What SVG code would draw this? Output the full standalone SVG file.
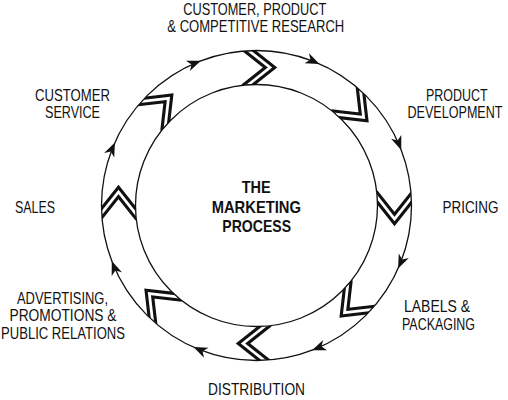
<svg xmlns="http://www.w3.org/2000/svg" xmlns:xlink="http://www.w3.org/1999/xlink" width="508" height="400" viewBox="0 0 508 400">
<style>
  .lbl { font-family: "Liberation Sans Narrow", "Liberation Sans", Arial, sans-serif; font-size: 16.5px; fill: #111; }
  .ctr { font-family: "Liberation Sans Narrow", "Liberation Sans", Arial, sans-serif; font-size: 16.5px; font-weight: bold; fill: #111; }
  .ring { fill: none; stroke: #111; stroke-width: 1.3; }
  .chk { fill: none; stroke: #111; stroke-width: 9; stroke-linejoin: miter; stroke-miterlimit: 10; }
  .chw { fill: none; stroke: #fff; stroke-width: 2.8; stroke-linejoin: miter; stroke-miterlimit: 10; }
  .ah { fill: #111; stroke: none; }
</style>
<defs>
  <clipPath id="band" clipPathUnits="userSpaceOnUse">
    <path clip-rule="evenodd" d="M155,0 A155,155 0 1,0 -155,0 A155,155 0 1,0 155,0 Z M121,0 A121,121 0 1,0 -121,0 A121,121 0 1,0 121,0 Z"/>
  </clipPath>
  <g id="chev">
    <path class="chk" d="M-12.3,-158.5 L13.5,-138 L-12.3,-117.5"/>
    <path class="chw" d="M-12.3,-158.5 L13.5,-138 L-12.3,-117.5"/>
  </g>
  <path id="arr" class="ah" d="M0,-155 L-14,-160.5 L-10,-155 L-14,-149.5 Z"/>
</defs>
<rect width="508" height="400" fill="#fff"/>

<g id="ring" transform="translate(256.5 205.5)">
  <g clip-path="url(#band)">
    <use xlink:href="#chev"/>
    <use xlink:href="#chev" transform="rotate(45)"/>
    <use xlink:href="#chev" transform="rotate(90)"/>
    <use xlink:href="#chev" transform="rotate(135)"/>
    <use xlink:href="#chev" transform="rotate(180)"/>
    <use xlink:href="#chev" transform="rotate(225)"/>
    <use xlink:href="#chev" transform="rotate(270)"/>
    <use xlink:href="#chev" transform="rotate(315)"/>
  </g>
  <circle class="ring" cx="0" cy="0" r="155"/>
  <circle class="ring" cx="0" cy="0" r="121"/>
</g>

<g id="connectors" transform="translate(256.5 205.5)">
  <use xlink:href="#arr" transform="rotate(24)"/>
  <use xlink:href="#arr" transform="rotate(69)"/>
  <use xlink:href="#arr" transform="rotate(114)"/>
  <use xlink:href="#arr" transform="rotate(159)"/>
  <use xlink:href="#arr" transform="rotate(204)"/>
  <use xlink:href="#arr" transform="rotate(249)"/>
  <use xlink:href="#arr" transform="rotate(294)"/>
  <use xlink:href="#arr" transform="rotate(339)"/>
</g>

<g id="center">
  <text class="ctr" x="241.7" y="192.7" textLength="29" lengthAdjust="spacingAndGlyphs">THE</text>
  <text class="ctr" x="211.7" y="212.7" textLength="89.3" lengthAdjust="spacingAndGlyphs">MARKETING</text>
  <text class="ctr" x="222.3" y="232.3" textLength="68.7" lengthAdjust="spacingAndGlyphs">PROCESS</text>
</g>

<g id="research">
  <text class="lbl" x="183.3" y="15" textLength="143" lengthAdjust="spacingAndGlyphs">CUSTOMER, PRODUCT</text>
  <text class="lbl" x="167.3" y="32" textLength="177" lengthAdjust="spacingAndGlyphs">&amp; COMPETITIVE RESEARCH</text>
</g>
<g id="product-development">
  <text class="lbl" x="426" y="101" textLength="61.7" lengthAdjust="spacingAndGlyphs">PRODUCT</text>
  <text class="lbl" x="407.5" y="118" textLength="95" lengthAdjust="spacingAndGlyphs">DEVELOPMENT</text>
</g>
<g id="pricing">
  <text class="lbl" x="442.5" y="213" textLength="56" lengthAdjust="spacingAndGlyphs">PRICING</text>
</g>
<g id="labels-packaging">
  <text class="lbl" x="404" y="312" textLength="66" lengthAdjust="spacingAndGlyphs">LABELS &amp;</text>
  <text class="lbl" x="402" y="330" textLength="73" lengthAdjust="spacingAndGlyphs">PACKAGING</text>
</g>
<g id="distribution">
  <text class="lbl" x="208" y="395" textLength="97" lengthAdjust="spacingAndGlyphs">DISTRIBUTION</text>
</g>
<g id="advertising">
  <text class="lbl" x="17" y="304" textLength="91" lengthAdjust="spacingAndGlyphs">ADVERTISING,</text>
  <text class="lbl" x="9.5" y="321" textLength="107" lengthAdjust="spacingAndGlyphs">PROMOTIONS &amp;</text>
  <text class="lbl" x="1" y="339" textLength="124" lengthAdjust="spacingAndGlyphs">PUBLIC RELATIONS</text>
</g>
<g id="sales">
  <text class="lbl" x="15" y="213" textLength="40" lengthAdjust="spacingAndGlyphs">SALES</text>
</g>
<g id="customer-service">
  <text class="lbl" x="35" y="101" textLength="75" lengthAdjust="spacingAndGlyphs">CUSTOMER</text>
  <text class="lbl" x="45" y="118" textLength="55" lengthAdjust="spacingAndGlyphs">SERVICE</text>
</g>
</svg>
